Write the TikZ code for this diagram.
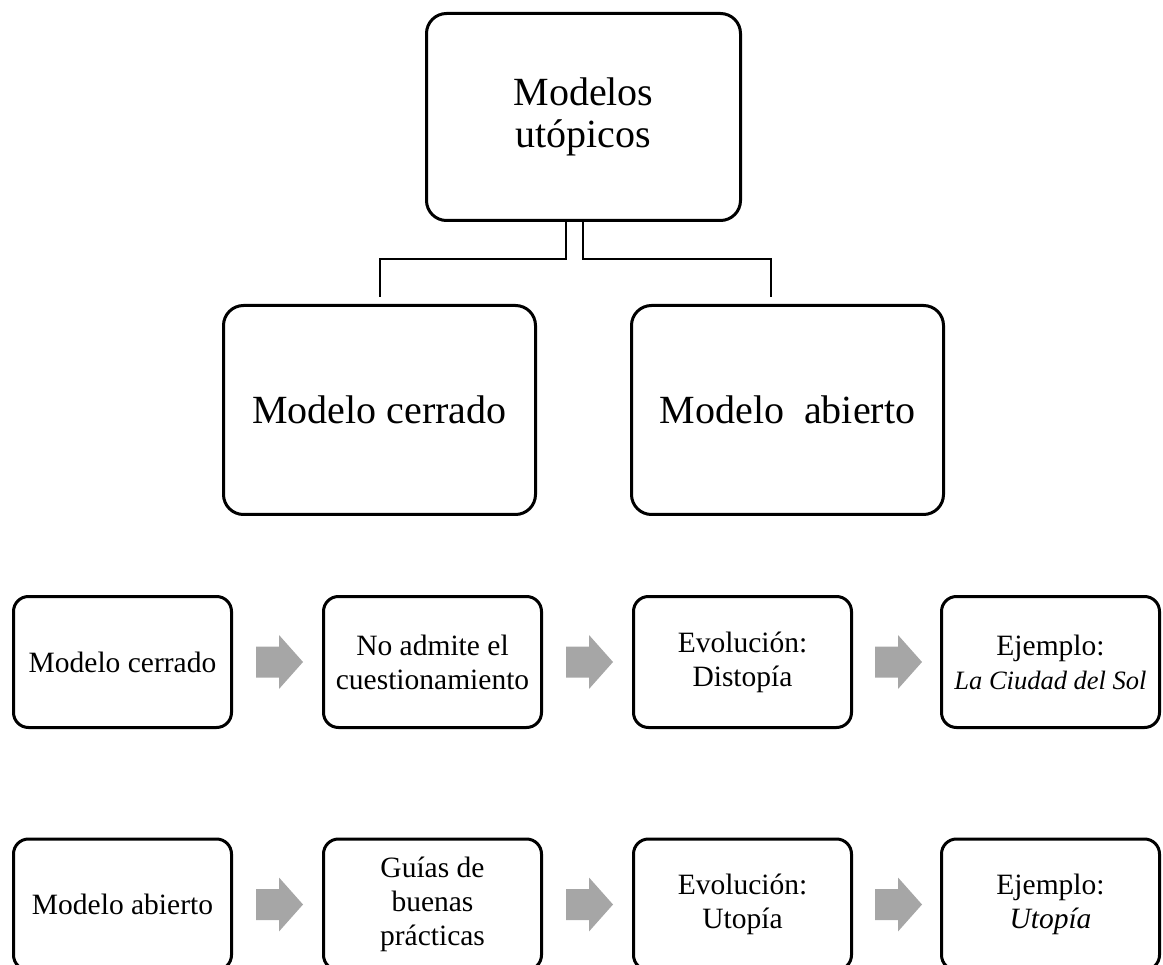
\documentclass[tikz,border=0pt]{standalone}
\usepackage{fontspec}
\setmainfont{Liberation Serif}
\usetikzlibrary{calc}
\definecolor{arrowgray}{RGB}{166,166,166}
% grey block arrow centred in the gap between two boxes
\newcommand\grayarrow[2]{%
  \path[arrowfill] ($(#1.east)!0.5!(#2.west)+(2,0)$)
    ++(-23.5,-15.5) -- ++(23,0) -- ++(0,-11.5) -- ++(24,27)
    -- ++(-24,27) -- ++(0,-11.5) -- ++(-23,0) -- cycle;}
\begin{document}
\begin{tikzpicture}[x=1pt,y=-1pt,
  bigbox/.style={draw, line width=3pt, rounded corners=20pt, align=center,
    inner sep=0pt, font=\fontsize{40}{42}\selectfont},
  rowbox/.style={draw, line width=3pt, rounded corners=15pt, align=center,
    inner sep=0pt, minimum width=218pt, minimum height=131pt,
    font=\fontsize{29.5}{34}\selectfont},
  link/.style={draw, line width=2pt},
  arrowfill/.style={fill=arrowgray}]
\clip (0,0) rectangle (1163,965);

% hierarchy
\node[bigbox, minimum width=314pt, minimum height=207pt] (top) at (583.5,117) {Modelos\\utópicos};
\node[bigbox, minimum width=312pt, minimum height=209pt] (ml) at (379.5,410) {Modelo cerrado};
\node[bigbox, minimum width=312pt, minimum height=209pt] (mr) at (787.5,410) {Modelo~~abierto};

\draw[link] ($(top.south)+(-17.5,0)$) -- ++(0,37) -| ($(ml.north)+(0.5,-7)$);
\draw[link] ($(top.south)+(-0.5,0)$) -- ++(0,37) -| ($(mr.north)+(-16.5,-7)$);

% closed model sequence
\node[rowbox] (c1) at (122.5,662) {Modelo cerrado};
\node[rowbox] (c2) at (432.5,662) {No admite el\\cuestionamiento};
\node[rowbox] (c3) at (742.5,662) {Evolución:\\Distopía};
\node[rowbox] (c4) at (1050.5,662) {Ejemplo:\\{\fontsize{26.5}{34}\selectfont\itshape La Ciudad del Sol}};
\grayarrow{c1}{c2}
\grayarrow{c2}{c3}
\grayarrow{c3}{c4}

% open model sequence
\node[rowbox] (o1) at (122.5,904.5) {Modelo abierto};
\node[rowbox] (o2) at (432.5,904.5) {Guías de\\buenas\\prácticas};
\node[rowbox] (o3) at (742.5,904.5) {Evolución:\\Utopía};
\node[rowbox] (o4) at (1050.5,904.5) {Ejemplo:\\\textit{Utopía}};
\grayarrow{o1}{o2}
\grayarrow{o2}{o3}
\grayarrow{o3}{o4}
\end{tikzpicture}
\end{document}
